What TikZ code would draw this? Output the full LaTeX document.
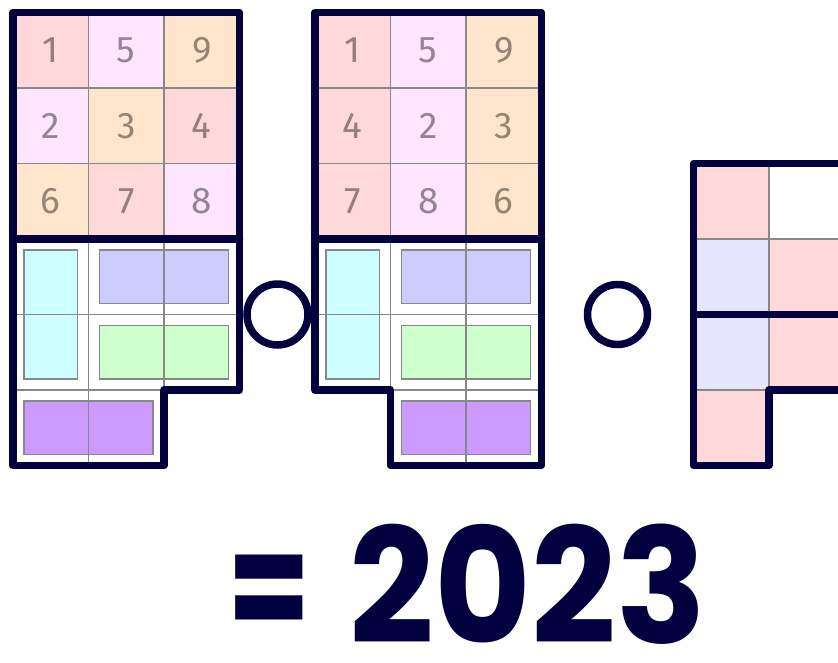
\documentclass[tikz,border=0pt]{standalone}
\usepackage{fontspec}
\newfontfamily\cellfont{Fira Sans}
\newfontfamily\bigfont{Poppins}
\definecolor{navy}{HTML}{02003F}
\definecolor{pk}{HTML}{FFD9D9}
\definecolor{lv}{HTML}{FFE5FF}
\definecolor{pc}{HTML}{FFE5CC}
\definecolor{lb}{HTML}{E5E5FF}
\definecolor{dcyan}{HTML}{CCFFFF}
\definecolor{dblue}{HTML}{CCCCFF}
\definecolor{dgreen}{HTML}{CCFFCC}
\definecolor{dpurp}{HTML}{CC99FF}
\definecolor{gridgray}{HTML}{888888}
\tikzset{
  border/.style={line width=7.5pt, draw=navy, line join=round, line cap=round},
  gridline/.style={line width=1.5pt, draw=gridgray},
  domino/.style={line width=1.5pt, draw=gridgray},
  numlabel/.style={font=\cellfont\fontsize{37}{37}\selectfont, inner sep=0pt, anchor=center},
  opcircle/.style={line width=7.5pt, draw=navy},
  bigtext/.style={font=\bigfont\bfseries\fontsize{160}{160}\selectfont, text=navy, inner sep=0pt, anchor=base west}
}
\newcommand{\cellc}[5]{% x y fill digit name
  \fill[#3] (#1,#2) rectangle ++(75.5,75.5);
  \node[numlabel, text=#3!58!black] (#5) at ($(#1,#2)+(37.75,37.75)$) {#4};
}
\usetikzlibrary{calc}
\begin{document}
\begin{tikzpicture}[x=1pt,y=-1pt]
\clip (0,0) rectangle (838,662);
\fill[white] (0,0) rectangle (838,662);

% ===== Diagram 1 =====
\cellc{13}{12.5}{pk}{1}{a1}
\cellc{88.5}{12.5}{lv}{5}{a2}
\cellc{164}{12.5}{pc}{9}{a3}
\cellc{13}{88}{lv}{2}{a4}
\cellc{88.5}{88}{pc}{3}{a5}
\cellc{164}{88}{pk}{4}{a6}
\cellc{13}{163.5}{pc}{6}{a7}
\cellc{88.5}{163.5}{pk}{7}{a8}
\cellc{164}{163.5}{lv}{8}{a9}
% dominoes
\filldraw[domino, fill=dcyan] (24,250) rectangle (77.5,379);
\filldraw[domino, fill=dblue] (99.5,250) rectangle (228.5,303.5);
\filldraw[domino, fill=dgreen] (99.5,325.5) rectangle (228.5,379);
\filldraw[domino, fill=dpurp] (24,401) rectangle (153,454.5);
% grid
\draw[gridline] (88.5,12.5) -- (88.5,465.5);
\draw[gridline] (164,12.5) -- (164,390);
\draw[gridline] (13,88) -- (239.5,88);
\draw[gridline] (13,163.5) -- (239.5,163.5);
\draw[gridline] (13,314.5) -- (239.5,314.5);
\draw[gridline] (13,390) -- (164,390);
% border
\draw[border] (13,12.5) -- (239.5,12.5) -- (239.5,390) -- (164,390) -- (164,465.5) -- (13,465.5) -- cycle;
\draw[border] (13,239) -- (239.5,239);

% ===== Diagram 2 =====
\cellc{315}{12.5}{pk}{1}{b1}
\cellc{390.5}{12.5}{lv}{5}{b2}
\cellc{466}{12.5}{pc}{9}{b3}
\cellc{315}{88}{pk}{4}{b4}
\cellc{390.5}{88}{lv}{2}{b5}
\cellc{466}{88}{pc}{3}{b6}
\cellc{315}{163.5}{pk}{7}{b7}
\cellc{390.5}{163.5}{lv}{8}{b8}
\cellc{466}{163.5}{pc}{6}{b9}
\filldraw[domino, fill=dcyan] (326,250) rectangle (379.5,379);
\filldraw[domino, fill=dblue] (401.5,250) rectangle (530.5,303.5);
\filldraw[domino, fill=dgreen] (401.5,325.5) rectangle (530.5,379);
\filldraw[domino, fill=dpurp] (401.5,401) rectangle (530.5,454.5);
\draw[gridline] (390.5,12.5) -- (390.5,390);
\draw[gridline] (466,12.5) -- (466,465.5);
\draw[gridline] (315,88) -- (541.5,88);
\draw[gridline] (315,163.5) -- (541.5,163.5);
\draw[gridline] (315,314.5) -- (541.5,314.5);
\draw[gridline] (390.5,390) -- (541.5,390);
\draw[border] (315,12.5) -- (541.5,12.5) -- (541.5,465.5) -- (390.5,465.5) -- (390.5,390) -- (315,390) -- cycle;
\draw[border] (315,239) -- (541.5,239);

% ===== Diagram 3 =====
\fill[pk] (693.5,163.5) rectangle ++(75.5,75.5);
\fill[lb] (693.5,239) rectangle ++(75.5,75.5);
\fill[pk] (769,239) rectangle ++(80,75.5);
\fill[lb] (693.5,314.5) rectangle ++(75.5,75.5);
\fill[pk] (769,314.5) rectangle ++(80,75.5);
\fill[pk] (693.5,390) rectangle ++(75.5,75.5);
\draw[gridline] (769,163.5) -- (769,390);
\draw[gridline] (693.5,239) -- (850,239);
\draw[gridline] (693.5,390) -- (769,390);
\draw[border] (850,163.5) -- (693.5,163.5) -- (693.5,465.5) -- (769,465.5) -- (769,390) -- (850,390);
\draw[border] (693.5,314.5) -- (850,314.5);

% ===== operators =====
\draw[opcircle] (277.5,314.5) circle (30.5);
\draw[opcircle] (617.5,314.5) circle (30);

\node[bigtext] (eq) at (227.5,643) {\scalebox{0.75}[1]{=}};
\node[bigtext] (year) at (349,643) {\scalebox{0.93}[1]{2023}};
\end{tikzpicture}
\end{document}
